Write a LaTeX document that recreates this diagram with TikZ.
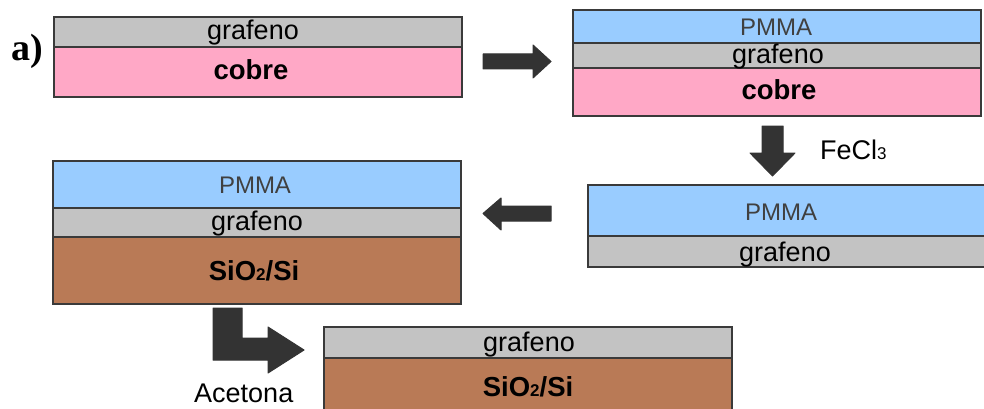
\documentclass[tikz,border=0pt]{standalone}
\usepackage{fontspec}
\setmainfont{Liberation Sans}
\newfontfamily\labelserif{Liberation Serif}
\definecolor{grafc}{HTML}{C3C3C3}
\definecolor{cobc}{HTML}{FFA8C6}
\definecolor{pmmac}{HTML}{99CCFF}
\definecolor{sic}{HTML}{B97A56}
\definecolor{arrc}{HTML}{333333}
\definecolor{bordc}{HTML}{3A3A3A}
\definecolor{pmmatext}{HTML}{404040}
\begin{document}
\begin{tikzpicture}[x=1pt,y=-1pt,
  layer/.style={draw=bordc, line width=1.1pt, anchor=north west, inner sep=0pt, outer sep=0pt, minimum width=408pt},
  lbl/.style={anchor=base, inner sep=0pt, font=\fontsize{27}{31}\selectfont},
  plbl/.style={lbl, text=pmmatext, font=\fontsize{24}{28}\selectfont},
  blbl/.style={lbl, font=\fontsize{27.5}{31}\selectfont\bfseries},
  blockarrow/.style={fill=arrc, draw=arrc, line width=1pt, line join=round}]
\useasboundingbox (0,0) rectangle (984,409);

% label a)
\node[anchor=base west, inner sep=0pt, font=\labelserif\fontsize{38}{44}\selectfont\bfseries] (lab) at (11,61) {a)};

% stack 1
\node[layer, fill=grafc, minimum height=30pt] (g1) at (54,17) {};
\node[layer, fill=cobc, minimum height=50pt] (c1) at (54,47) {};
\node[lbl] (tg1) at (253,40) {grafeno};
\node[blbl] (tc1) at (251,80) {cobre};

% stack 2
\node[layer, fill=pmmac, minimum height=33pt] (p2) at (573,10) {};
\node[layer, fill=grafc, minimum height=25pt] (g2) at (573,43) {};
\node[layer, fill=cobc, minimum height=48pt] (c2) at (573,68) {};
\node[plbl] (tp2) at (776,36) {PMMA};
\node[lbl] (tg2) at (778,64) {grafeno};
\node[blbl] (tc2) at (779,100) {cobre};

% stack 3
\node[layer, fill=pmmac, minimum height=51pt] (p3) at (588,185) {};
\node[layer, fill=grafc, minimum height=31pt] (g3) at (588,236) {};
\node[plbl] (tp3) at (781,220) {PMMA};
\node[lbl] (tg3) at (785,261) {grafeno};

% stack 4
\node[layer, fill=pmmac, minimum height=47pt] (p4) at (53,161) {};
\node[layer, fill=grafc, minimum height=29pt] (g4) at (53,208) {};
\node[layer, fill=sic, minimum height=67pt] (s4) at (53,237) {};
\node[plbl] (tp4) at (255,193) {PMMA};
\node[lbl] (tg4) at (257,230) {grafeno};
\node[blbl] (ts4) at (254,280) {SiO{\fontsize{17}{20}\selectfont 2}/Si};

% stack 5
\node[layer, fill=grafc, minimum height=31pt] (g5) at (324,327) {};
\node[layer, fill=sic, minimum height=60pt] (s5) at (324,358) {};
\node[lbl] (tg5) at (529,351) {grafeno};
\node[blbl] (ts5) at (528,396) {SiO{\fontsize{17}{20}\selectfont 2}/Si};

% block arrows
\draw[blockarrow] (483,54) -- (533,54) -- (533,45) -- (551,61.5) -- (533,78) -- (533,69) -- (483,69) -- cycle;
\draw[blockarrow] (762,126) -- (783,126) -- (783,153) -- (795,153) -- (772.5,176) -- (750,153) -- (762,153) -- cycle;
\draw[blockarrow] (551,206) -- (501,206) -- (501,198) -- (483,213.5) -- (501,230) -- (501,221) -- (551,221) -- cycle;
\draw[blockarrow] (213,308) -- (242,308) -- (242,338) -- (268,338) -- (268,327) -- (304,350) -- (268,373) -- (268,360) -- (213,360) -- cycle;

% reagents
\node[anchor=base west, inner sep=0pt, font=\fontsize{27}{31}\selectfont] (fe) at (820,159) {FeCl{\fontsize{17}{20}\selectfont 3}};
\node[anchor=base west, inner sep=0pt, font=\fontsize{27}{31}\selectfont] (ac) at (194,402) {Acetona};
\end{tikzpicture}
\end{document}
